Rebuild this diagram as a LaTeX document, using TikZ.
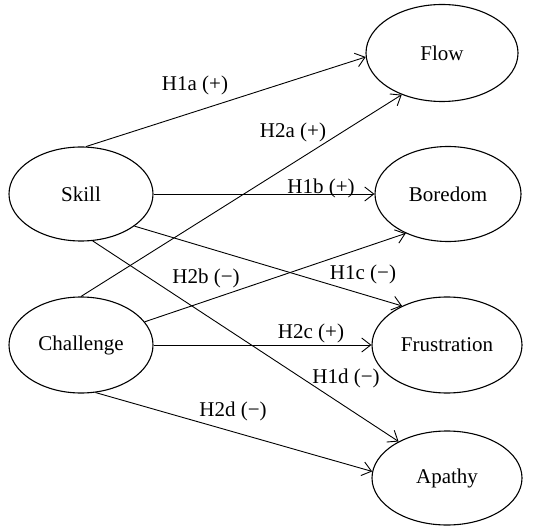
\documentclass[tikz,border=0pt]{standalone}
\usepackage{fontspec}
\setmainfont{Liberation Serif}
\usetikzlibrary{shapes.geometric,arrows.meta}
\begin{document}
\begin{tikzpicture}[x=1pt,y=-1pt,
  every node/.style={font=\fontsize{21}{25}\selectfont},
  var/.style={ellipse,draw,line width=1.1pt,inner sep=0pt},
  link/.style={line width=0.9pt,-{Straight Barb[length=9pt,width=14pt,line width=0.9pt]}},
  lab/.style={inner sep=1pt}]
\useasboundingbox (0,0) rectangle (540,526);
\node[var,minimum width=152pt,minimum height=97pt] (flow) at (442,53) {Flow};
\node[var,minimum width=146pt,minimum height=95pt] (boredom) at (448,194) {Boredom};
\node[var,minimum width=144pt,minimum height=94pt] (skill) at (81,194) {Skill};
\node[var,minimum width=144pt,minimum height=96pt] (challenge) at (81,345) {Challenge};
\node[var,minimum width=150pt,minimum height=96pt] (frustration) at (447,345) {Frustration};
\node[var,minimum width=150pt,minimum height=94pt] (apathy) at (447,478) {Apathy};

\draw[link] (skill.84) -- (flow.183);
\draw[link] (challenge.90) -- (flow.226);
\draw[link] (skill.east) -- (boredom.west);
\draw[link] (skill.-31.7) -- (frustration.139.5);
\draw[link] (skill.-76) -- (apathy.143.5);
\draw[link] (challenge.20.6) -- (boredom.223);
\draw[link] (challenge.east) -- (frustration.west);
\draw[link] (challenge.-73.7) -- (apathy.175.4);

\node[lab] (l1a) at (195,85) {H1a (+)};
\node[lab] (l2a) at (293,132) {H2a (+)};
\node[lab] (l1b) at (321,188) {H1b (+)};
\node[lab] (l1c) at (363,274) {H1c (\textminus)};
\node[lab] (l2b) at (206,278) {H2b (\textminus)};
\node[lab] (l2c) at (311,333) {H2c (+)};
\node[lab] (l1d) at (346,378) {H1d (\textminus)};
\node[lab] (l2d) at (233,411) {H2d (\textminus)};
\end{tikzpicture}
\end{document}
